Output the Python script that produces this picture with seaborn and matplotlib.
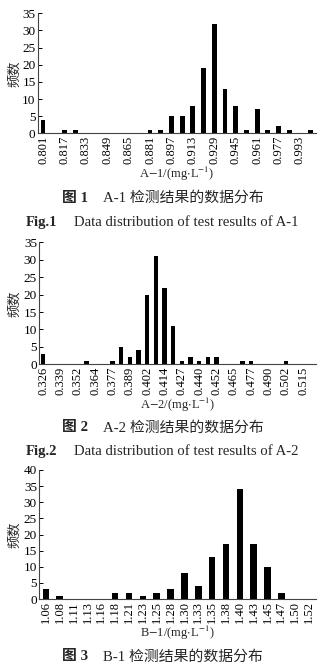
import numpy as np
import matplotlib
matplotlib.use("Agg")
import matplotlib.pyplot as plt
import seaborn as sns

# Frequency counts per concentration bin
a1_counts = [4, 0, 1, 1, 0, 0, 0, 0, 0, 0, 1, 1, 5, 5, 8, 19, 32, 13, 8, 1, 7, 1, 2, 1, 0, 1]
a1_ticks = ["0.801", "0.817", "0.833", "0.849", "0.865", "0.881", "0.897",
            "0.913", "0.929", "0.945", "0.961", "0.977", "0.993"]

a2_counts = [3, 0, 0, 0, 0, 1, 0, 0, 1, 5, 2, 4, 20, 31, 22, 11,
             1, 2, 1, 2, 2, 0, 0, 1, 1, 0, 0, 0, 1, 0, 0, 0]
a2_ticks = ["0.326", "0.339", "0.352", "0.364", "0.377", "0.389", "0.402", "0.414",
            "0.427", "0.440", "0.452", "0.465", "0.477", "0.490", "0.502", "0.515"]

b1_counts = [3, 1, 0, 0, 0, 2, 2, 1, 2, 3, 8, 4, 13, 17, 34, 17, 10, 2, 0, 0]
b1_ticks = ["1.06", "1.08", "1.11", "1.13", "1.16", "1.18", "1.21", "1.23", "1.25", "1.28",
            "1.30", "1.33", "1.35", "1.38", "1.40", "1.43", "1.45", "1.47", "1.50", "1.52"]

sns.set_theme(style="white")
FAM = ["Liberation Serif", "Noto Sans CJK SC", "DejaVu Sans"]
plt.rcParams["font.family"] = FAM
plt.rcParams["mathtext.fontset"] = "stix"
plt.rcParams["axes.unicode_minus"] = False

W, H = 326, 671
TICK_FS = 9
fig = plt.figure(figsize=(W / 100, H / 100), dpi=100)


def axes_px(left, top, right, bottom):
    return fig.add_axes([left / W, 1 - bottom / H, (right - left) / W, (bottom - top) / H])


def draw_hist(ax, counts, ticks, step, ymax, xlabel, width):
    n = len(counts)
    sns.barplot(x=list(range(n)), y=counts, color="black", width=width,
                saturation=1, ax=ax, edgecolor="black", linewidth=0)
    ax.set_xlim(-0.5, n - 0.5)
    ax.set_ylim(0, ymax)
    ax.set_yticks(range(0, ymax + 1, 5))
    ax.set_xticks(range(0, n, step)[:len(ticks)])
    ax.set_xticklabels(ticks, rotation=90, fontsize=TICK_FS)
    ax.tick_params(axis="y", direction="in", length=3, width=0.7,
                   labelsize=9.5, pad=1.5, left=True, colors="black")
    ax.tick_params(axis="x", length=0, pad=1.5, colors="black")
    for s in ("top", "right"):
        ax.spines[s].set_visible(False)
    for s in ("left", "bottom"):
        ax.spines[s].set_color("#444444")
        ax.spines[s].set_linewidth(0.8)
    ax.set_xlabel(xlabel, fontsize=9)
    ax.set_ylabel("频数", fontsize=9.5, family=FAM)
    ax.grid(False)


def captions(y_cn, y_en, num, name):
    fig.text(88 / W, 1 - y_cn / H, f"图 {num}", ha="right", va="center",
             fontsize=10.7, fontweight="bold", family=FAM)
    fig.text(103 / W, 1 - y_cn / H, f"{name} 检测结果的数据分布", ha="left",
             va="center", fontsize=10.7, family=FAM)
    if y_en is not None:
        fig.text(57 / W, 1 - y_en / H, f"Fig.{num}", ha="right", va="center",
                 fontsize=10.5, fontweight="bold", family=FAM)
        fig.text(74 / W, 1 - y_en / H, f"Data distribution of test results of {name}",
                 ha="left", va="center", fontsize=10.6, family=FAM)


def place_labels(ax, top, bottom, left, right, xlab_y, ylab_x):
    h = bottom - top
    w = right - left
    ax.xaxis.set_label_coords(0.5, (bottom - xlab_y) / h)
    ax.xaxis.label.set_va("center")
    ax.yaxis.set_label_coords((ylab_x - left) / w, 0.5)
    ax.yaxis.label.set_va("center")


ax1 = axes_px(37.7, 13.3, 316, 133.3)
draw_hist(ax1, a1_counts, a1_ticks, 2, 35, r"A$-$1/(mg$\cdot$L$^{-1}$)", 0.45)
place_labels(ax1, 13.3, 133.3, 37.7, 316, 174, 15)
captions(198.3, 222.7, 1, "A-1")

ax2 = axes_px(39, 242.3, 316, 364.3)
draw_hist(ax2, a2_counts, a2_ticks, 2, 35, r"A$-$2/(mg$\cdot$L$^{-1}$)", 0.5)
place_labels(ax2, 242.3, 364.3, 39, 316, 404.5, 15)
captions(428, 451.7, 2, "A-2")

ax3 = axes_px(39, 470, 316, 599)
draw_hist(ax3, b1_counts, b1_ticks, 1, 40, r"B$-$1/(mg$\cdot$L$^{-1}$)", 0.48)
place_labels(ax3, 470, 599, 39, 316, 632.5, 15)
captions(656.7, None, 3, "B-1")

fig.savefig("out.png", dpi=100, facecolor="white")
